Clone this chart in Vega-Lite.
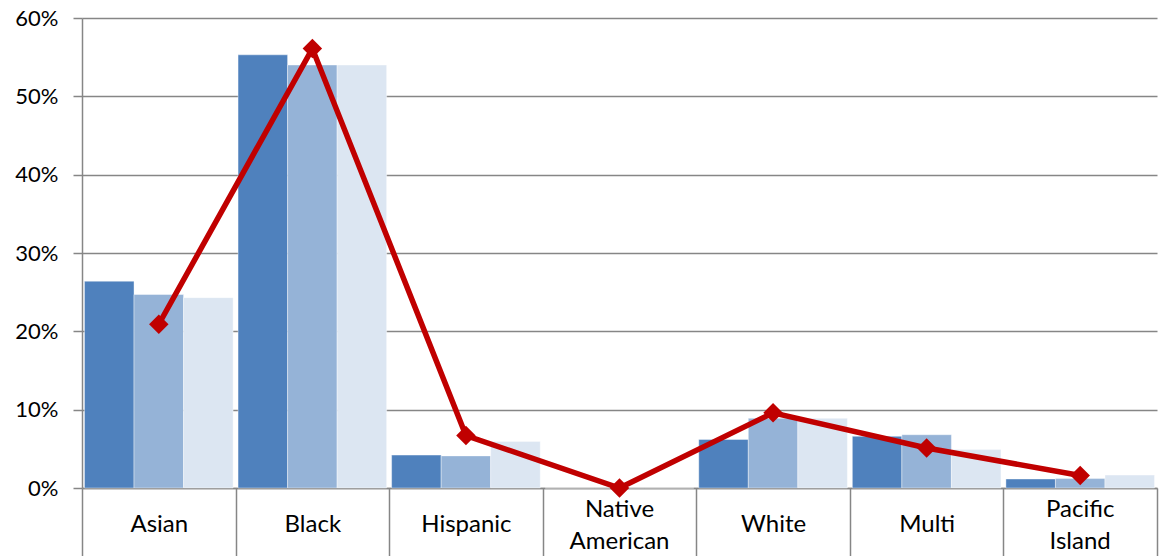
{
  "$schema": "https://vega.github.io/schema/vega-lite/v6.json",
  "autosize": "none",
  "width": 1075,
  "height": 470,
  "padding": {"left": 82, "top": 18, "right": 7, "bottom": 68},
  "background": "white",
  "config": {
    "font": "Lato",
    "view": {"stroke": null},
    "axis": {"labelFont": "Lato", "labelFontSize": 21, "labelColor": "#000000", "domainColor": "#868686", "tickColor": "#868686", "gridColor": "#868686", "domainWidth": 1.5, "tickWidth": 1.5, "gridWidth": 1.5}
  },
  "datasets": {
    "bars": [
      {"group": "Asian", "series": "S1", "value": 0.264},
      {"group": "Asian", "series": "S2", "value": 0.247},
      {"group": "Asian", "series": "S3", "value": 0.243},
      {"group": "Black", "series": "S1", "value": 0.553},
      {"group": "Black", "series": "S2", "value": 0.540},
      {"group": "Black", "series": "S3", "value": 0.540},
      {"group": "Hispanic", "series": "S1", "value": 0.042},
      {"group": "Hispanic", "series": "S2", "value": 0.041},
      {"group": "Hispanic", "series": "S3", "value": 0.0595},
      {"group": "Native American", "series": "S1", "value": 0.0},
      {"group": "Native American", "series": "S2", "value": 0.0},
      {"group": "Native American", "series": "S3", "value": 0.0},
      {"group": "White", "series": "S1", "value": 0.062},
      {"group": "White", "series": "S2", "value": 0.089},
      {"group": "White", "series": "S3", "value": 0.089},
      {"group": "Multi", "series": "S1", "value": 0.066},
      {"group": "Multi", "series": "S2", "value": 0.068},
      {"group": "Multi", "series": "S3", "value": 0.049},
      {"group": "Pacific Island", "series": "S1", "value": 0.0115},
      {"group": "Pacific Island", "series": "S2", "value": 0.012},
      {"group": "Pacific Island", "series": "S3", "value": 0.0165}
    ],
    "line": [
      {"group": "Asian", "value": 0.209},
      {"group": "Black", "value": 0.561},
      {"group": "Hispanic", "value": 0.067},
      {"group": "Native American", "value": 0.0},
      {"group": "White", "value": 0.096},
      {"group": "Multi", "value": 0.051},
      {"group": "Pacific Island", "value": 0.016}
    ]
  },
  "resolve": {"axis": {"x": "independent"}},
  "encoding": {
    "y": {
      "field": "value",
      "type": "quantitative",
      "scale": {"domain": [0, 0.6], "nice": false},
      "axis": {
        "title": null,
        "format": ".0%",
        "labelFontSize": 22,
        "values": [0, 0.1, 0.2, 0.3, 0.4, 0.5, 0.6],
        "tickSize": 9,
        "labelPadding": 15,
        "grid": true,
        "domain": true
      }
    }
  },
  "layer": [
    {
      "data": {"name": "bars"},
      "mark": {"type": "bar", "stroke": "#ffffff", "strokeOpacity": 0.5, "strokeWidth": 0.8},
      "encoding": {
        "x": {
          "field": "group",
          "type": "nominal",
          "sort": ["Asian", "Black", "Hispanic", "Native American", "White", "Multi", "Pacific Island"],
          "scale": {"paddingInner": 0, "paddingOuter": 0},
          "axis": {
            "title": null,
            "orient": "bottom",
            "labelAngle": 0,
            "labelFontSize": 24,
            "tickBand": "extent",
            "tickSize": 68,
            "labelPadding": -32,
            "labelBaseline": "middle",
            "labelExpr": "indexof(datum.label, ' ') > 0 ? '' : datum.label",
            "domain": true,
            "grid": false
          }
        },
        "xOffset": {"field": "series", "type": "nominal", "scale": {"paddingOuter": 0.05, "paddingInner": 0}},
        "color": {
          "field": "series",
          "type": "nominal",
          "scale": {"domain": ["S1", "S2", "S3"], "range": ["#4f81bd", "#95b3d7", "#dce6f2"]},
          "legend": null
        }
      }
    },
    {
      "data": {"name": "line"},
      "mark": {"type": "line", "color": "#c00000", "strokeWidth": 5.5, "point": {"shape": "diamond", "size": 380, "color": "#c00000", "filled": true}},
      "encoding": {
        "x": {
          "field": "group",
          "type": "nominal",
          "sort": ["Asian", "Black", "Hispanic", "Native American", "White", "Multi", "Pacific Island"],
          "axis": {
            "title": null,
            "orient": "bottom",
            "labelAngle": 0,
            "labelFontSize": 24,
            "ticks": false,
            "domain": false,
            "grid": false,
            "labelPadding": 21,
            "labelBaseline": "middle",
            "labelLineHeight": 32,
            "labelExpr": "datum.label == 'Native American' ? ['Native', 'American'] : datum.label == 'Pacific Island' ? ['Pacific', 'Island'] : ''"
          }
        }
      }
    }
  ]
}
